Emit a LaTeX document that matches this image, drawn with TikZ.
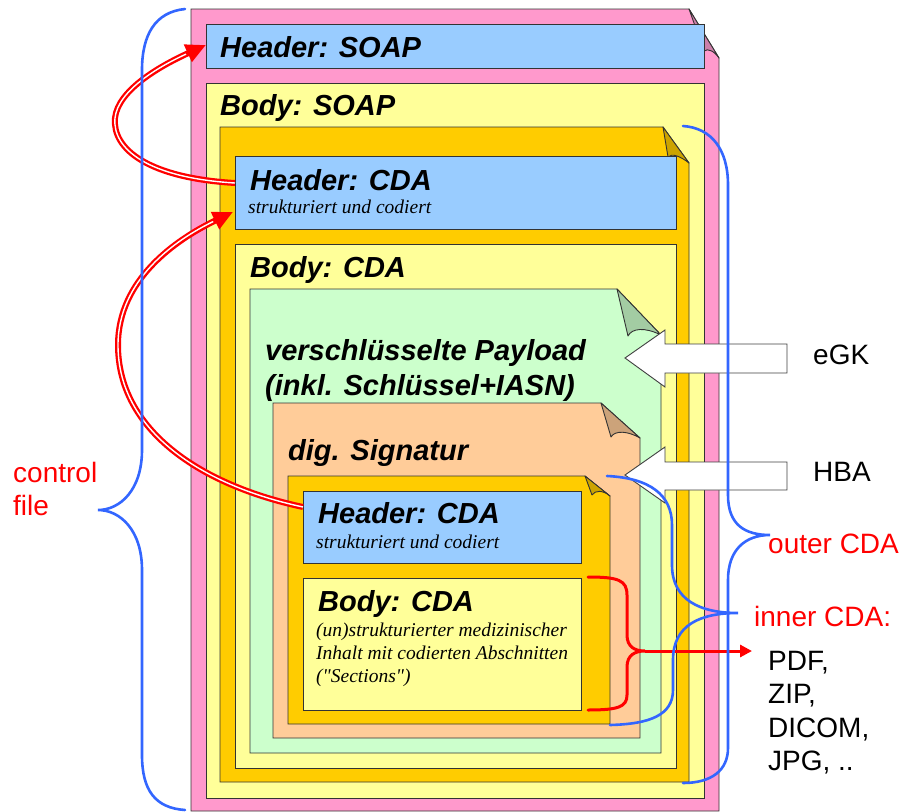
\documentclass[tikz,border=0pt]{standalone}
\usepackage{fontspec}
\setmainfont{Liberation Sans}
\newfontfamily\timesfont{Liberation Serif}
\usetikzlibrary{arrows.meta}
\definecolor{soappink}{HTML}{FF99CC}
\definecolor{pinkfold}{HTML}{CC80AA}
\definecolor{paleyellow}{HTML}{FFFF99}
\definecolor{gold}{HTML}{FFCC00}
\definecolor{goldfold}{HTML}{CCA300}
\definecolor{headblue}{HTML}{99CCFF}
\definecolor{mint}{HTML}{CCFFCC}
\definecolor{mintfold}{HTML}{A3CCA3}
\definecolor{peach}{HTML}{FFCC99}
\definecolor{peachfold}{HTML}{CCA37A}
\definecolor{braceblue}{HTML}{3366FF}
\definecolor{arrowred}{HTML}{FF0000}
\begin{document}
\begin{tikzpicture}[x=1pt,y=-1pt,
  box/.style={draw=black!80, line width=0.9pt, line join=miter},
  flap/.style={draw=black!80, line width=0.9pt, line join=round},
  ttl/.style={anchor=base west, inner sep=0pt, font=\fontsize{29}{34}\selectfont\bfseries\itshape},
  note/.style={anchor=base west, inner sep=0pt, font=\timesfont\itshape\fontsize{19.5}{23}\selectfont},
  lbl/.style={anchor=base west, inner sep=0pt, font=\fontsize{28}{33}\selectfont},
  redlbl/.style={lbl, text=arrowred},
  blockarrow/.style={draw=black!75, fill=white, line width=0.9pt, line join=miter},
  brace/.style={draw=braceblue, line width=2.6pt, line cap=round},
  redbrace/.style={draw=arrowred, line width=3pt, line cap=round},
  dblred/.style={draw=arrowred, line width=6pt, -{Triangle[length=20pt,width=18pt]}},
  dblwhite/.style={draw=white, line width=1.4pt, shorten >=22pt},
]
\useasboundingbox (0,0) rectangle (906,812);

% SOAP envelope with folded corner
\path[box, fill=soappink] (191,9) -- (689,9) -- (719,58) -- (719,811) -- (191,811) -- cycle;
\path[flap, fill=pinkfold] (689,9) -- (704,51) .. controls (708,48) and (714,51) .. (719,58) -- cycle;
\path[box, fill=headblue] (206,24) rectangle (704,68);
\path[box, fill=paleyellow] (206,83) rectangle (704,798);

% outer CDA document
\path[box, fill=gold] (220,127) -- (663,127) -- (689,163) -- (689,782) -- (220,782) -- cycle;
\path[flap, fill=goldfold] (663,127) -- (668,157) .. controls (672,153) and (680,156) .. (689,163) -- cycle;
\path[box, fill=headblue] (235,156) rectangle (676,229);
\path[box, fill=paleyellow] (235,244) rectangle (676,768);

% encrypted payload
\path[box, fill=mint] (250,289) -- (617,289) -- (661,335) -- (661,753) -- (250,753) -- cycle;
\path[flap, fill=mintfold] (617,289) -- (628,336) .. controls (632,328) and (645,327) .. (661,335) -- cycle;

% signature
\path[box, fill=peach] (273,403) -- (601,403) -- (640,438) -- (640,738) -- (273,738) -- cycle;
\path[flap, fill=peachfold] (601,403) -- (611,437) .. controls (615,430) and (628,431) .. (640,438) -- cycle;

% inner CDA document
\path[box, fill=gold] (288,476) -- (585,476) -- (610,496) -- (610,724) -- (288,724) -- cycle;
\path[flap, fill=goldfold] (585,476) -- (592,495) .. controls (595,490) and (603,490) .. (610,496) -- cycle;
\path[box, fill=headblue] (303,491) rectangle (581,563);
\path[box, fill=paleyellow] (303,578) rectangle (581,710);

% box titles and notes
\node[ttl] (hsoapT) at (220,57) {Header: SOAP};
\node[ttl] (bsoapT) at (220,115) {Body: SOAP};
\node[ttl] (hcdaT) at (250,190) {Header: CDA};
\node[note] (hcdaN) at (248,213) {strukturiert und codiert};
\node[ttl] (bcdaT) at (250,277) {Body: CDA};
\node[ttl] (payT1) at (265,360) {verschlüsselte Payload};
\node[ttl] (payT2) at (265,395) {(inkl. Schlüssel+IASN)};
\node[ttl] (sigT) at (288,460) {dig. Signatur};
\node[ttl] (ihcdaT) at (318,523) {Header: CDA};
\node[note] (ihcdaN) at (316,548) {strukturiert und codiert};
\node[ttl] (ibcdaT) at (318,611) {Body: CDA};
\node[note] (ib1) at (316,636) {(un)strukturierter medizinischer};
\node[note] (ib2) at (316,659) {Inhalt mit codierten Abschnitten};
\node[note] (ib3) at (316,682) {("Sections")};

% card keys pointing into the layers
\path[blockarrow] (625,358) -- (665,330) -- (665,344) -- (787,344) -- (787,373) -- (665,373) -- (665,387) -- cycle;
\path[blockarrow] (625,475) -- (665,447) -- (665,462) -- (787,462) -- (787,490) -- (665,490) -- (665,503) -- cycle;
\node[lbl] (egk) at (813,364) {eGK};
\node[lbl] (hba) at (813,481) {HBA};

% anchor points on the header boxes
\coordinate (hsoapW) at (206,45);
\coordinate (hcdaW1) at (235,183);
\coordinate (hcdaW2) at (233,212);
\coordinate (ihcdaW) at (303,507);

% header references (double red arrows)
\draw[dblred] (hcdaW1) .. controls (150,178) and (112,150) .. (115,118)
                       .. controls (118,90) and (160,66) .. (hsoapW);
\draw[dblwhite] (hcdaW1) .. controls (150,178) and (112,150) .. (115,118)
                       .. controls (118,90) and (160,66) .. (hsoapW);
\draw[dblred] (ihcdaW) .. controls (200,485) and (118,430) .. (118,345)
                       .. controls (118,280) and (175,240) .. (hcdaW2);
\draw[dblwhite] (ihcdaW) .. controls (200,485) and (118,430) .. (118,345)
                       .. controls (118,280) and (175,240) .. (hcdaW2);

% body content brace and arrow to the formats
\coordinate (rtop) at (588,577);
\coordinate (rtip) at (645,651);
\coordinate (rbot) at (588,710);
\coordinate (fmtW) at (752,651);
\draw[redbrace] (rtop) .. controls (618,577) and (627,580) .. (627,595) -- (627,635)
      .. controls (627,647) and (635,651) .. (rtip)
      .. controls (635,651) and (627,655) .. (627,667) -- (627,695)
      .. controls (627,707) and (618,710) .. (rbot);
\draw[redbrace, line cap=butt, -{Triangle[length=12pt,width=12pt]}] (rtip) -- (fmtW);

% curly braces
\coordinate (ctlTop) at (185,9);
\coordinate (ctlTip) at (98,510);
\coordinate (ctlBot) at (185,810);
\draw[brace] (ctlTop) .. controls (155,12) and (142,35) .. (142,70) -- (142,450)
      .. controls (142,490) and (120,510) .. (ctlTip)
      .. controls (120,510) and (142,530) .. (142,570) -- (142,755)
      .. controls (142,790) and (155,808) .. (ctlBot);
\coordinate (outTop) at (683,126);
\coordinate (outTip) at (770,535);
\coordinate (outBot) at (683,783);
\draw[brace] (outTop) .. controls (712,128) and (728,150) .. (728,185) -- (728,495)
      .. controls (728,525) and (745,535) .. (outTip)
      .. controls (745,535) and (728,550) .. (728,580) -- (728,748)
      .. controls (728,770) and (712,783) .. (outBot);
\coordinate (inTop) at (607,476);
\coordinate (inTip) at (738,613);
\coordinate (inBot) at (610,725);
\draw[brace] (inTop) .. controls (650,478) and (672,495) .. (672,525) -- (672,565)
      .. controls (672,600) and (700,613) .. (inTip)
      .. controls (700,613) and (673,625) .. (673,660) -- (673,690)
      .. controls (673,715) and (650,724) .. (inBot);

% brace labels
\node[redlbl] (ctl1) at (13,482) {control};
\node[redlbl] (ctl2) at (13,515) {file};
\node[redlbl] (outer) at (768,553) {outer CDA};
\node[redlbl] (inner) at (754,626) {inner CDA:};
\node[lbl] (fmt1) at (768,670) {PDF,};
\node[lbl] (fmt2) at (768,703) {ZIP,};
\node[lbl] (fmt3) at (768,737) {DICOM,};
\node[lbl] (fmt4) at (768,770) {JPG, ..};
\end{tikzpicture}
\end{document}
